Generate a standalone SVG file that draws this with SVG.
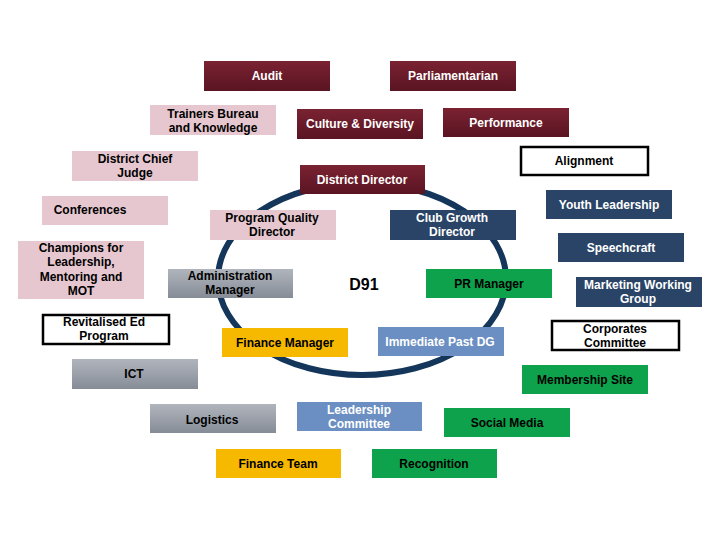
<svg xmlns="http://www.w3.org/2000/svg" width="720" height="540" viewBox="0 0 720 540">
<defs>
<linearGradient id="gM" x1="0" y1="0" x2="0" y2="1"><stop offset="0" stop-color="#7a2232"/><stop offset="1" stop-color="#5a1422"/></linearGradient>
<linearGradient id="gG" x1="0" y1="0" x2="0" y2="1"><stop offset="0" stop-color="#b0b5bd"/><stop offset="1" stop-color="#868c96"/></linearGradient>
<style>
text{font-family:"Liberation Sans",Arial,sans-serif;font-size:12px;font-weight:bold;text-anchor:middle}
.m rect{fill:url(#gM)} .m text{fill:#fff}
.p rect{fill:#e6c7cf} .p text{fill:#000}
.n rect{fill:#2a4467} .n text{fill:#fff}
.g rect{fill:url(#gG)} .g text{fill:#000}
.gr rect{fill:#0ea24c} .gr text{fill:#000}
.y rect{fill:#f6b900} .y text{fill:#000}
.b rect{fill:#6b8fc2} .b text{fill:#fff}
.w rect{fill:#fff;stroke:#000;stroke-width:2.5} .w text{fill:#000}
</style>
</defs>
<rect width="720" height="540" fill="#fff"/>
<g id="connectors">
<ellipse cx="362" cy="279" rx="144" ry="96" fill="none" stroke="#14365a" stroke-width="6"/>
</g>
<g id="audit" class="m"><rect x="204" y="61" width="126" height="30"/><text x="267" y="80">Audit</text></g>
<g id="parliamentarian" class="m"><rect x="390" y="61" width="126" height="30"/><text x="453" y="80">Parliamentarian</text></g>
<g id="trainers" class="p"><rect x="150" y="105" width="126" height="30"/><text x="213" y="118">Trainers Bureau</text><text x="213" y="132">and Knowledge</text></g>
<g id="culture" class="m"><rect x="297" y="109" width="126" height="30"/><text x="360" y="128">Culture &amp; Diversity</text></g>
<g id="performance" class="m"><rect x="443" y="108" width="126" height="29"/><text x="506" y="127">Performance</text></g>
<g id="chiefjudge" class="p"><rect x="72" y="151" width="126" height="30"/><text x="135" y="163">District Chief</text><text x="135" y="177">Judge</text></g>
<g id="alignment" class="w"><rect x="521" y="147" width="127" height="28"/><text x="584" y="165">Alignment</text></g>
<g id="districtdirector" class="m"><rect x="300" y="165" width="125" height="29"/><text x="362" y="184">District Director</text></g>
<g id="conferences" class="p"><rect x="42" y="196" width="126" height="29"/><text x="90" y="214">Conferences</text></g>
<g id="pqd" class="p"><rect x="210" y="210" width="126" height="30"/><text x="272" y="222">Program Quality</text><text x="272" y="236">Director</text></g>
<g id="cgd" class="n"><rect x="390" y="210" width="126" height="30"/><text x="452" y="222">Club Growth</text><text x="452" y="236">Director</text></g>
<g id="youth" class="n"><rect x="546" y="190" width="126" height="29"/><text x="609" y="209">Youth Leadership</text></g>
<g id="speechcraft" class="n"><rect x="558" y="233" width="126" height="29"/><text x="621" y="252">Speechcraft</text></g>
<g id="champions" class="p"><rect x="18" y="241" width="126" height="58"/><text x="81" y="252">Champions for</text><text x="81" y="266">Leadership,</text><text x="81" y="281">Mentoring and</text><text x="81" y="295">MOT</text></g>
<g id="admin" class="g"><rect x="168" y="269" width="125" height="29"/><text x="230" y="280">Administration</text><text x="230" y="294">Manager</text></g>
<g id="d91"><text x="364" y="290" style="font-size:16px;fill:#000">D91</text></g>
<g id="pr" class="gr"><rect x="426" y="269" width="126" height="29"/><text x="489" y="288">PR Manager</text></g>
<g id="marketing" class="n"><rect x="576" y="277" width="126" height="30"/><text x="638" y="289">Marketing Working</text><text x="638" y="303">Group</text></g>
<g id="revitalised" class="w"><rect x="43" y="315" width="126" height="29"/><text x="104" y="326">Revitalised Ed</text><text x="104" y="340">Program</text></g>
<g id="financemgr" class="y"><rect x="222" y="328" width="126" height="29"/><text x="285" y="347">Finance Manager</text></g>
<g id="ipdg" class="b"><rect x="378" y="327" width="126" height="29"/><text x="440" y="346">Immediate Past DG</text></g>
<g id="corporates" class="w"><rect x="552" y="321" width="127" height="29"/><text x="615" y="333">Corporates</text><text x="615" y="347">Committee</text></g>
<g id="ict" class="g"><rect x="72" y="359" width="126" height="30"/><text x="134" y="378">ICT</text></g>
<g id="membership" class="gr"><rect x="522" y="365" width="126" height="29"/><text x="585" y="384">Membership Site</text></g>
<g id="logistics" class="g"><rect x="150" y="404" width="126" height="29"/><text x="212" y="424">Logistics</text></g>
<g id="leadership" class="b"><rect x="297" y="402" width="125" height="29"/><text x="359" y="414">Leadership</text><text x="359" y="428">Committee</text></g>
<g id="social" class="gr"><rect x="444" y="408" width="126" height="29"/><text x="507" y="427">Social Media</text></g>
<g id="financeteam" class="y"><rect x="216" y="449" width="125" height="29"/><text x="278" y="468">Finance Team</text></g>
<g id="recognition" class="gr"><rect x="372" y="449" width="125" height="29"/><text x="434" y="468">Recognition</text></g>
</svg>
